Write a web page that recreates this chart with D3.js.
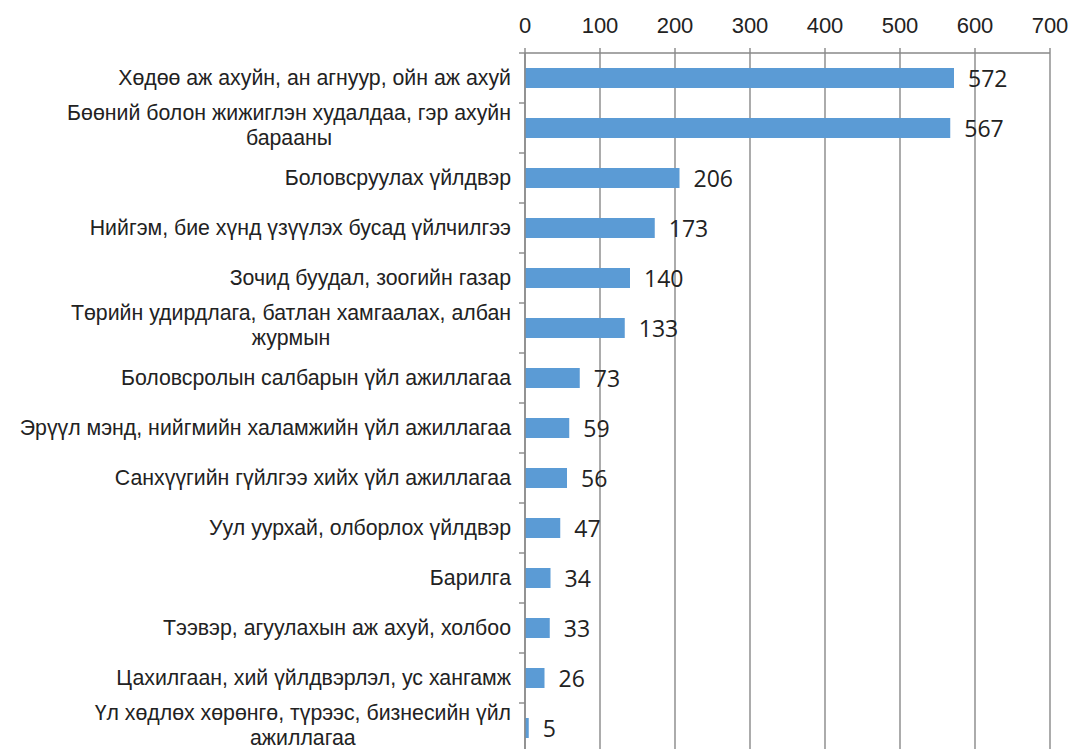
<!DOCTYPE html>
<html>
<head>
<meta charset="utf-8">
<script src="https://cdn.jsdelivr.net/npm/d3@7"></script>
<style>
  body { margin: 0; background: #fff; }
  svg { display: block; }
</style>
</head>
<body>
<svg id="chart" width="1072" height="749"></svg>
<script>
// categories (line breaks as in the picture)
const categories = [
    "Хөдөө аж ахуйн, ан агнуур, ойн аж ахуй",
    "Бөөний болон жижиглэн худалдаа, гэр ахуйн\nбарааны",
    "Боловсруулах үйлдвэр",
    "Нийгэм, бие хүнд үзүүлэх бусад үйлчилгээ",
    "Зочид буудал, зоогийн газар",
    "Төрийн удирдлага, батлан хамгаалах, албан\nжурмын",
    "Боловсролын салбарын үйл ажиллагаа",
    "Эрүүл мэнд, нийгмийн халамжийн үйл ажиллагаа",
    "Санхүүгийн гүйлгээ хийх үйл ажиллагаа",
    "Уул уурхай, олборлох үйлдвэр",
    "Барилга",
    "Тээвэр, агуулахын аж ахуй, холбоо",
    "Цахилгаан, хий үйлдвэрлэл, ус хангамж",
    "Үл хөдлөх хөрөнгө, түрээс, бизнесийн үйл\nажиллагаа"
];
const values = [572, 567, 206, 173, 140, 133, 73, 59, 56, 47, 34, 33, 26, 5];
const xTicks = [0, 100, 200, 300, 400, 500, 600, 700];

const svg = d3.select("#chart");
const plotLeft = 525, plotRight = 1050, plotTop = 53, rowH = 50;

const x = d3.scaleLinear().domain([0, 700]).range([plotLeft, plotRight]);
const y = d3.scaleBand()
    .domain(d3.range(categories.length))
    .range([plotTop, plotTop + rowH * categories.length])
    .paddingInner(0.6)
    .paddingOuter(0.3);

// vertical gridlines
svg.append("g")
    .selectAll("line")
    .data(xTicks)
    .join("line")
    .attr("x1", d => x(d)).attr("x2", d => x(d))
    .attr("y1", plotTop - 5).attr("y2", 749)
    .attr("stroke", "#888")
    .attr("stroke-width", 1.4);

// top axis line
svg.append("line")
    .attr("x1", x(0)).attr("x2", x(700))
    .attr("y1", plotTop).attr("y2", plotTop)
    .attr("stroke", "#888")
    .attr("stroke-width", 1.4);

// top tick labels
svg.append("g")
    .selectAll("text")
    .data(xTicks)
    .join("text")
    .attr("x", d => x(d))
    .attr("y", 33)
    .attr("text-anchor", "middle")
    .attr("font-family", "Liberation Sans, Arial, sans-serif")
    .attr("font-size", 22)
    .attr("fill", "#222")
    .text(d => d);

// category tick marks on the left axis
svg.append("g")
    .selectAll("line")
    .data(d3.range(categories.length + 1))
    .join("line")
    .attr("x1", x(0) - 6).attr("x2", x(0))
    .attr("y1", i => plotTop + i * rowH).attr("y2", i => plotTop + i * rowH)
    .attr("stroke", "#888")
    .attr("stroke-width", 1.4);

// bars
svg.append("g")
    .selectAll("rect")
    .data(values)
    .join("rect")
    .attr("x", x(0))
    .attr("y", (d, i) => y(i))
    .attr("width", d => x(d) - x(0))
    .attr("height", y.bandwidth())
    .attr("fill", "#5b9bd5");

// left axis line (drawn over the bars)
svg.append("line")
    .attr("x1", x(0)).attr("x2", x(0))
    .attr("y1", plotTop).attr("y2", 749)
    .attr("stroke", "#888")
    .attr("stroke-width", 1.4);

// value labels
svg.append("g")
    .selectAll("text")
    .data(values)
    .join("text")
    .attr("x", d => x(d) + 14)
    .attr("y", (d, i) => y(i) + y.bandwidth() / 2)
    .attr("dy", "0.38em")
    .attr("font-family", "Open Sans, sans-serif")
    .attr("font-size", 23)
    .attr("fill", "#222")
    .text(d => d);

// category labels
const labelRight = 511;
const lineH = 25.5;
const labels = svg.append("g")
    .attr("font-family", "Liberation Sans, Arial, sans-serif")
    .attr("font-size", 21.3)
    .attr("fill", "#222");

categories.forEach((c, i) => {
    const lines = c.split("\n");
    const cy = y(i) + y.bandwidth() / 2;
    if (lines.length === 1) {
        labels.append("text")
            .attr("x", labelRight).attr("y", cy).attr("dy", "0.35em")
            .attr("text-anchor", "end").text(c);
    } else {
        // first line right-aligned, the rest centred under it
        const y0 = cy - 3 - (lines.length - 1) / 2 * lineH;
        const first = labels.append("text")
            .attr("x", labelRight)
            .attr("y", y0)
            .attr("dy", "0.35em")
            .attr("text-anchor", "end")
            .text(lines[0]);
        const w = first.node().getComputedTextLength();
        const cx = labelRight - w / 2;
        lines.slice(1).forEach((ln, k) => {
            labels.append("text")
                .attr("x", cx)
                .attr("y", y0 + (k + 1) * lineH)
                .attr("dy", "0.35em")
                .attr("text-anchor", "middle")
                .text(ln);
        });
    }
});
</script>
</body>
</html>
